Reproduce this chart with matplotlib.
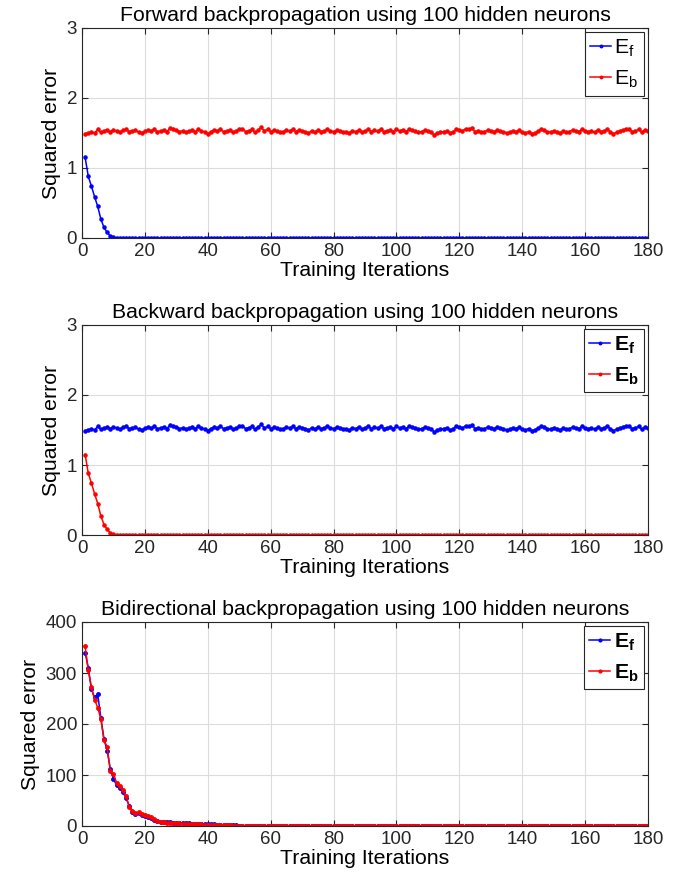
import numpy as np
import matplotlib
matplotlib.use('Agg')
import matplotlib.pyplot as plt

plt.rcParams['font.family'] = ['Liberation Sans', 'DejaVu Sans']
plt.rcParams['mathtext.fontset'] = 'custom'
plt.rcParams['mathtext.rm'] = 'Liberation Sans'
plt.rcParams['mathtext.bf'] = 'Liberation Sans:bold'

# iterations 1..180
iters = np.arange(1, 181)

# noisy plateau of the untrained direction (~1.53)
plateau = [
    1.49, 1.50, 1.52, 1.50, 1.55, 1.51, 1.53, 1.54, 1.52, 1.54,
    1.53, 1.51, 1.54, 1.55, 1.52, 1.53, 1.54, 1.51, 1.50, 1.53,
    1.54, 1.53, 1.55, 1.52, 1.53, 1.54, 1.52, 1.57, 1.55, 1.54,
    1.52, 1.53, 1.51, 1.53, 1.54, 1.52, 1.55, 1.53, 1.51, 1.49,
    1.52, 1.54, 1.53, 1.55, 1.52, 1.53, 1.54, 1.51, 1.53, 1.55,
    1.56, 1.52, 1.53, 1.55, 1.51, 1.54, 1.58, 1.53, 1.55, 1.52,
    1.54, 1.53, 1.51, 1.52, 1.54, 1.53, 1.55, 1.52, 1.54, 1.53,
    1.52, 1.50, 1.53, 1.51, 1.54, 1.52, 1.53, 1.55, 1.53, 1.52,
    1.54, 1.53, 1.51, 1.52, 1.50, 1.53, 1.52, 1.54, 1.51, 1.53,
    1.55, 1.52, 1.54, 1.53, 1.55, 1.52, 1.53, 1.54, 1.52, 1.55,
    1.53, 1.54, 1.52, 1.55, 1.54, 1.53, 1.51, 1.52, 1.54, 1.53,
    1.52, 1.47, 1.50, 1.51, 1.52, 1.53, 1.50, 1.52, 1.55, 1.54,
    1.53, 1.56, 1.55, 1.57, 1.52, 1.53, 1.51, 1.52, 1.54, 1.53,
    1.52, 1.54, 1.53, 1.52, 1.50, 1.51, 1.53, 1.52, 1.54, 1.51,
    1.50, 1.52, 1.49, 1.50, 1.53, 1.55, 1.54, 1.52, 1.51, 1.53,
    1.52, 1.50, 1.53, 1.51, 1.52, 1.54, 1.53, 1.52, 1.55, 1.53,
    1.52, 1.53, 1.51, 1.54, 1.52, 1.53, 1.55, 1.52, 1.49, 1.51,
    1.53, 1.54, 1.56, 1.55, 1.52, 1.53, 1.55, 1.51, 1.54, 1.53,
]

# decaying error of the trained direction
decay_head = [1.15, 0.88, 0.74, 0.59, 0.45, 0.27, 0.15, 0.08, 0.03, 0.01, 0.004, 0.001]
decay = decay_head + [0.0] * (180 - len(decay_head))

# bidirectional run
bi_ef_head = [340, 310, 268, 252, 258, 212, 170, 148, 112, 92,
              80, 74, 66, 55, 40, 28, 24, 25, 22, 20,
              18, 16, 12, 9, 8, 8, 7, 7, 6, 6,
              6, 5, 5, 5, 4, 4, 4, 3, 3, 3,
              3, 3, 2, 2, 2, 2, 1.5, 1, 1, 0.8,
              0.6, 0.5, 0.4, 0.3, 0.3, 0.2, 0.2, 0.1, 0.1, 0.1]
bi_eb_head = [352, 305, 272, 248, 232, 210, 168, 155, 108, 102,
              85, 78, 70, 58, 38, 30, 26, 27, 23, 21,
              19, 17, 14, 10, 8, 7, 6, 6, 5, 5,
              5, 4, 4, 4, 3, 3, 3, 3, 2, 2,
              2, 2, 2, 1.5, 1.5, 1, 1, 0.8, 0.6, 0.5,
              0.4, 0.3, 0.3, 0.2, 0.2, 0.1, 0.1, 0.1, 0.1, 0.1]
bi_ef = bi_ef_head + [0.0] * (180 - len(bi_ef_head))
bi_eb = bi_eb_head + [0.0] * (180 - len(bi_eb_head))

titles = ['Forward backpropagation using 100 hidden neurons',
          'Backward backpropagation using 100 hidden neurons',
          'Bidirectional backpropagation using 100 hidden neurons']
panels = [(decay, plateau), (plateau, decay), (bi_ef, bi_eb)]
ylims = [(0, 3), (0, 3), (0, 400)]
yticks = [[0, 1, 2, 3], [0, 1, 2, 3], [0, 100, 200, 300, 400]]
bold_legend = [False, True, True]

fig = plt.figure(figsize=(6.8, 8.82), dpi=100)
W, H = 680, 882
# axes boxes in pixels: left, top, right, bottom
boxes = [(82, 28, 648, 238), (82, 325, 648, 535), (82, 622, 648, 826)]

FS = 15.3
TFS = 13.5
for i, (box, (ef, eb)) in enumerate(zip(boxes, panels)):
    l, t, r, b = box
    ax = fig.add_axes([l / W, 1 - b / H, (r - l) / W, (b - t) / H])
    ms = 5 if i == 2 else 4.5
    ax.plot(iters, ef, color='blue', marker='.', markersize=ms, linewidth=1.1, label=r'E$_\mathregular{f}$')
    ax.plot(iters, eb, color='red', marker='.', markersize=ms, linewidth=1.1, label=r'E$_\mathregular{b}$')
    ax.set_xlim(0, 180)
    ax.set_ylim(*ylims[i])
    ax.set_xticks(range(0, 181, 20))
    ax.set_yticks(yticks[i])
    ax.grid(True, color='#dcdcdc', linewidth=0.8)
    ax.set_axisbelow(True)
    ax.tick_params(direction='in', top=True, right=True, labelsize=TFS, colors='#262626', length=4)
    for s in ax.spines.values():
        s.set_color('#262626')
        s.set_linewidth(0.8)
    ax.set_title(titles[i], fontsize=FS, pad=5)
    ax.set_xlabel('Training Iterations', fontsize=FS, labelpad=0.5)
    ax.set_ylabel('Squared error', fontsize=FS, labelpad=4)
    if bold_legend[i]:
        labels = [r'$\mathbf{E_f}$', r'$\mathbf{E_b}$']
        prop = {'size': FS, 'weight': 'bold'}
    else:
        labels = None
        prop = {'size': FS}
    leg = ax.legend(labels=labels, loc='upper right', prop=prop, fancybox=False,
                    edgecolor='#262626', framealpha=1, borderaxespad=0.2,
                    handlelength=1.0, handletextpad=0.15, borderpad=0.25, labelspacing=0.45,
                    markerscale=0.8)
    leg.get_frame().set_linewidth(0.8)

fig.savefig('out.png', dpi=100)
